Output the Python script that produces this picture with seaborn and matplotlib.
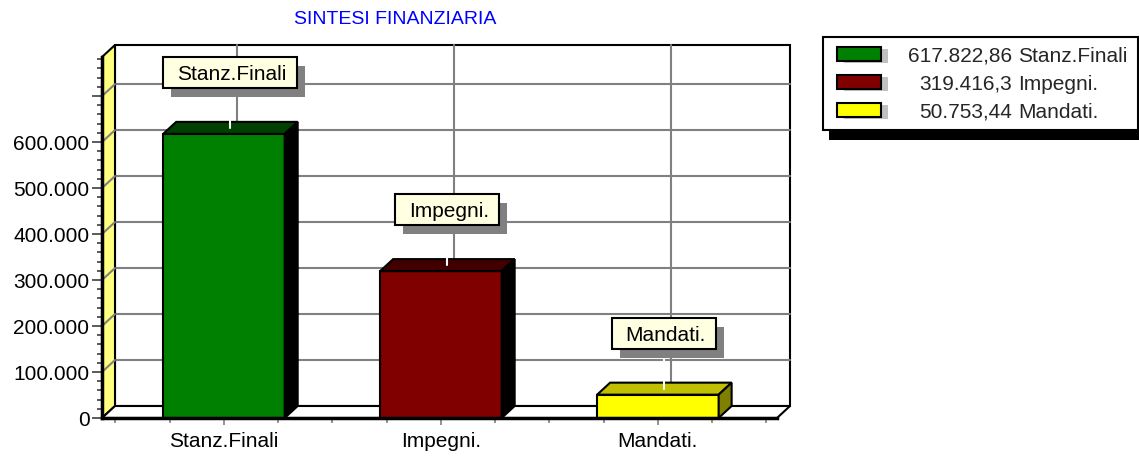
import pandas as pd
import numpy as np
import matplotlib
matplotlib.use('Agg')
import matplotlib.pyplot as plt
from matplotlib.patches import Polygon, Rectangle
from matplotlib.ticker import MultipleLocator, FuncFormatter
import seaborn as sns

# --- dati ---
categorie = ['Stanz.Finali', 'Impegni.', 'Mandati.']
importi = [617822.86, 319416.3, 50753.44]
titolo = 'SINTESI FINANZIARIA'

colori_fronte = ['#008000', '#800000', '#FFFF00']
colori_sopra = ['#004000', '#400000', '#C0C000']
colori_lato = ['#000000', '#000000', '#808000']

W, H = 1139, 461
sns.set_theme(style='white')
plt.rcParams['font.family'] = ['Liberation Sans', 'DejaVu Sans']

fig = plt.figure(figsize=(W / 100, H / 100), dpi=100)
ax = fig.add_axes([102 / W, 43 / H, 675 / W, 361 / H])

df = pd.DataFrame({'voce': categorie, 'importo': importi})
sns.barplot(data=df, x='voce', y='importo', hue='voce', palette=colori_fronte,
            width=0.56, edgecolor='black', linewidth=1.5, saturation=1,
            legend=False, ax=ax)

XL, XR, YMAX = -0.562, 2.549, 785000
ax.set_xlim(XL, XR)
ax.set_ylim(0, YMAX)
ax.patch.set_visible(False)

# profondita' 3D in unita' dati (13 px a destra, 12 px in alto)
p0 = ax.transData.transform((0, 0))
p1 = ax.transData.transform((1, 100000))
DX = 13 / (p1[0] - p0[0])
DY = 12 / (p1[1] - p0[1]) * 100000

# parete di fondo
ax.add_patch(Polygon([(XL + DX, DY), (XR + DX, DY), (XR + DX, YMAX + DY), (XL + DX, YMAX + DY)],
                     closed=True, fc='white', ec='black', lw=1.5, clip_on=False, zorder=0.5))
for k in range(1, 8):
    ax.plot([XL + DX, XR + DX], [k * 100000 + DY] * 2, color='#808080', lw=1.5, clip_on=False, zorder=0.8)
for i in range(len(categorie)):
    ax.plot([i + DX, i + DX], [DY, YMAX + DY], color='#808080', lw=1.5, clip_on=False, zorder=0.8)

# parete sinistra gialla
ax.add_patch(Polygon([(XL, 0), (XL + DX, DY), (XL + DX, YMAX + DY), (XL, YMAX)],
                     closed=True, fc='#FFFF80', ec='black', lw=1.5, clip_on=False, zorder=1))
for k in range(1, 8):
    ax.plot([XL, XL + DX], [k * 100000, k * 100000 + DY], color='#808080', lw=1.5, clip_on=False, zorder=1.1)

# pavimento
ax.add_patch(Polygon([(XL, 0), (XR, 0), (XR + DX, DY), (XL + DX, DY)],
                     closed=True, fc='white', ec='black', lw=1.5, clip_on=False, zorder=1))

# barre 3D: faccia superiore e laterale
bars = [p for p in ax.patches if isinstance(p, Rectangle)]
for i, bar in enumerate(bars):
    bar.set_zorder(3)
    x0, x1 = bar.get_x(), bar.get_x() + bar.get_width()
    h = bar.get_height()
    ax.add_patch(Polygon([(x0, h), (x1, h), (x1 + DX, h + DY), (x0 + DX, h + DY)],
                         closed=True, fc=colori_sopra[i], ec='black', lw=1.5, clip_on=False, zorder=3))
    ax.add_patch(Polygon([(x1, 0), (x1, h), (x1 + DX, h + DY), (x1 + DX, DY)],
                         closed=True, fc=colori_lato[i], ec='black', lw=1.5, clip_on=False, zorder=3))

# assi
for s in ['top', 'right']:
    ax.spines[s].set_visible(False)
for s in ['left', 'bottom']:
    ax.spines[s].set_linewidth(2.5)
    ax.spines[s].set_color('black')
    ax.spines[s].set_zorder(4)

ax.yaxis.set_major_locator(MultipleLocator(100000))
ax.yaxis.set_minor_locator(MultipleLocator(20000))
ax.yaxis.set_major_formatter(FuncFormatter(
    lambda v, p: '' if v > 650000 else f'{v:,.0f}'.replace(',', '.')))
ax.tick_params(axis='y', which='major', left=True, length=7, width=1.2, color='#404040',
               pad=2, labelsize=15, labelcolor='black')
ax.tick_params(axis='y', which='minor', left=True, length=3.5, width=1.2, color='#404040')

ax.set_xticks(range(len(categorie)))
ax.set_xticklabels(categorie)
ax.set_xticks(np.arange(-0.5, 2.51, 0.25), minor=True)
ax.tick_params(axis='x', which='major', bottom=True, length=5, width=1.2, color='#808080',
               pad=5, labelsize=15, labelcolor='black')
ax.tick_params(axis='x', which='minor', bottom=True, length=3.5, width=1.2, color='#808080')
ax.set_xlabel('')
ax.set_ylabel('')

# livello in pixel per etichette e legenda
ov = fig.add_axes([0, 0, 1, 1], zorder=10)
ov.set_xlim(0, W)
ov.set_ylim(H, 0)
ov.axis('off')
ov.patch.set_visible(False)


def to_px(x, y):
    d = ax.transData.transform((x, y))
    return d[0], H - d[1]


renderer = fig.canvas.get_renderer()
for i, (cat, v) in enumerate(zip(categorie, importi)):
    bx, by = to_px(i, v)
    lx, ly = to_px(i + DX / 2, v + DY / 2)
    cx = bx + 6
    bottom = by - 46
    t = ov.text(cx + 2, bottom - 15.5, cat, ha='center', va='center_baseline',
                fontsize=15, color='black', zorder=13)
    w = t.get_window_extent(renderer).width + 24
    ov.add_patch(Rectangle((cx - w / 2 + 8, bottom - 31 + 9), w, 31, fc='#808080', ec='none', zorder=11))
    ov.add_patch(Rectangle((cx - w / 2, bottom - 31), w, 31, fc='#FFFFE1', ec='black', lw=1.5, zorder=12))
    ov.plot([lx, lx], [bottom, ly], color='white', lw=1.5, zorder=10.5)


def formato(v):
    s = f'{v:,.2f}'.replace(',', 'X').replace('.', ',').replace('X', '.')
    return s.rstrip('0').rstrip(',')


# legenda
ov.add_patch(Rectangle((829, 47), 315, 93, fc='black', ec='none', zorder=10.5))
ov.add_patch(Rectangle((823, 37), 315, 93, fc='white', ec='black', lw=1.5, zorder=11))
for j, (cat, v) in enumerate(zip(categorie, importi)):
    y = 54 + 28 * j
    ov.add_patch(Rectangle((844, y - 5), 44, 14, fc='#C0C0C0', ec='none', zorder=11.5))
    ov.add_patch(Rectangle((837, y - 7), 44, 14, fc=colori_fronte[j], ec='black', lw=1.5, zorder=12))
    ov.text(1012, y, formato(v), ha='right', va='center_baseline', fontsize=15, zorder=12)
    ov.text(1018, y, cat, ha='left', va='center_baseline', fontsize=15, zorder=12)

fig.text(395 / W, 1 - 20 / H, titolo, color='#0000FF', fontsize=14, ha='center', va='center')

fig.savefig('out.png', dpi=100)
